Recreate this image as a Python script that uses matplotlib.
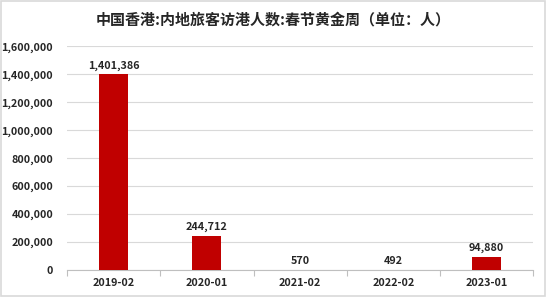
import matplotlib
matplotlib.use("Agg")
import matplotlib.pyplot as plt
from matplotlib.patches import Rectangle
from matplotlib.ticker import FuncFormatter
import numpy as np

plt.rcParams["font.family"] = ["Noto Sans CJK SC", "DejaVu Sans"]

title = "中国香港:内地旅客访港人数:春节黄金周（单位：人）"
periods = ["2019-02", "2020-01", "2021-02", "2022-02", "2023-01"]
visitors = [1401386, 244712, 570, 492, 94880]

fig = plt.figure(figsize=(5.46, 2.97), dpi=100)
ax = fig.add_axes([0.1227, 0.091, 0.854, 0.7525])

x = np.arange(len(periods))
ax.bar(x, visitors, width=0.31, color="#c00000", zorder=3)
for xi, v in zip(x, visitors):
    ax.text(xi, v + 25000, f"{v:,}", ha="center", va="bottom",
            fontsize=7.8, fontweight="bold", color="#262626")

ax.set_xlim(-0.5, len(periods) - 0.5)
ax.set_ylim(0, 1600000)
ax.set_yticks(np.arange(0, 1600001, 200000))
ax.yaxis.set_major_formatter(FuncFormatter(lambda v, _: f"{int(v):,}"))
ax.set_xticks(x, periods)
ax.set_xticks(np.arange(-0.5, len(periods), 1.0), minor=True)

ax.grid(axis="y", color="#d9d9d9", linewidth=0.8, zorder=0)
for side in ("top", "right", "left"):
    ax.spines[side].set_visible(False)
ax.spines["bottom"].set_color("#bfbfbf")
ax.spines["bottom"].set_linewidth(0.8)
ax.tick_params(axis="y", length=0, pad=10, labelsize=7.8, labelcolor="#262626")
ax.tick_params(axis="x", which="major", length=0, pad=6, labelsize=7.8, labelcolor="#262626")
ax.tick_params(axis="x", which="minor", length=4, color="#bfbfbf", width=0.8)
for lab in ax.get_xticklabels() + ax.get_yticklabels():
    lab.set_fontweight("bold")

fig.text(0.5, 0.935, title, ha="center", va="center", fontsize=10.8,
         fontweight="bold", color="#262626")
fig.patches.append(Rectangle((0.002, 0.003), 0.996, 0.994, transform=fig.transFigure,
                             fill=False, edgecolor="#d9d9d9", linewidth=1.2))

fig.savefig("out.png", dpi=100)
